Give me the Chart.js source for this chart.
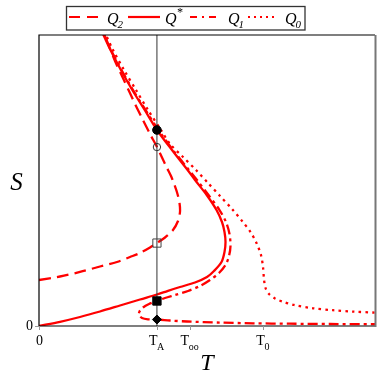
<!DOCTYPE html>
<html>
<head>
<meta charset="utf-8">
<script src="https://cdn.jsdelivr.net/npm/chart.js@4.4.1/dist/chart.umd.min.js"></script>
<style>
html,body{margin:0;padding:0;background:#fff;}
canvas{display:block;}
</style>
</head>
<body>
<canvas id="c" width="382" height="382"></canvas>
<script>
// ---- data (T on x, S on y; axes run 0..100 in arbitrary units) ----
const tA = 35.1, tOO = 44.9, t0 = 66.7;

// Q* (solid)
const qStarT = [0, 6.25, 12.20, 18.15, 24.11, 30.06, 35.12, 38.39, 41.96, 46.43, 50.00, 52.08, 54.32, 55.21, 55.51, 55.21, 54.46, 52.83, 49.91, 46.43, 44.23, 39.58, 35.12, 31.46, 27.77, 24.38, 21.28, 19.20, 18.7];
const qStarS = [0, 1.44, 3.09, 4.98, 7.04, 9.11, 10.82, 12.10, 13.40, 14.95, 16.84, 18.90, 21.99, 25.43, 28.87, 32.30, 35.74, 39.86, 45.02, 50.17, 53.61, 60.48, 67.35, 74.23, 81.10, 87.97, 94.85, 100, 101.4];

// Q2 (dashed)
const q2T = [0, 6.25, 12.20, 18.15, 23.21, 27.08, 30.06, 33.04, 35.12, 37.50, 39.88, 41.37, 41.96, 41.82, 41.22, 40.33, 39.29, 37.95, 36.61, 35.12, 33.04, 30.95, 28.87, 26.79, 24.70, 22.62, 20.83, 19.49, 19.05];
const q2S = [15.81, 17.01, 18.56, 20.45, 21.99, 23.71, 25.09, 26.98, 28.52, 30.41, 32.99, 36.08, 39.18, 42.27, 45.36, 48.45, 51.55, 54.64, 57.90, 61.51, 65.98, 70.79, 75.60, 80.76, 85.91, 91.07, 96.22, 100, 101.4];

// Q1 (dash-dot)
const q1T = [19.05, 19.49, 21.43, 24.55, 27.98, 31.70, 35.57, 39.88, 44.64, 47.02, 50.45, 53.72, 55.65, 56.70, 56.99, 56.55, 55.51, 53.57, 50.89, 47.92, 44.35, 40.48, 37.50, 35.12, 32.74, 30.95, 29.91, 29.76, 30.65, 32.44, 35.12, 38.99, 44.05, 53.87, 63.69, 74.70, 86.61, 100];
const q1S = [101.4, 100, 94.85, 87.97, 81.10, 74.23, 67.35, 60.48, 53.61, 50.17, 45.02, 39.86, 35.74, 31.62, 27.49, 24.05, 20.96, 18.21, 15.81, 13.75, 12.03, 10.65, 9.62, 8.59, 7.56, 6.36, 4.98, 3.78, 2.75, 2.30, 2.23, 1.89, 1.55, 1.17, 0.93, 0.79, 0.69, 0.62];

// Q0 (dotted)
const q0T = [19.49, 19.94, 22.02, 25.30, 28.87, 32.44, 36.31, 38.99, 42.86, 46.73, 50.30, 53.87, 57.44, 60.57, 62.95, 64.73, 66.07, 66.67, 66.96, 67.41, 68.45, 70.24, 72.62, 75.89, 81.55, 87.50, 93.45, 100];
const q0S = [101.4, 100, 94.85, 87.97, 81.10, 74.23, 67.35, 62.54, 58.08, 53.61, 49.14, 44.67, 40.21, 35.91, 32.30, 28.52, 24.40, 20.27, 16.15, 13.06, 11.00, 9.45, 8.32, 7.22, 6.08, 5.43, 4.95, 4.60];

// marked states on the T = T_A line
const markFilledCircleS = 67.35;
const markOpenCircleS = 61.5;
const markOpenSquareS = 28.5;
const markFilledSquareS = 8.6;
const markDiamondS = 2.23;

// ticks
const xTickValues = [0, tA, tOO, t0];
const xTickMain = ['0', 'T', 'T', 'T'];
const xTickSub = ['', 'A', 'oo', '0'];
const yTickValues = [0];
const yTickLabels = ['0'];

// legend
const legendNames = ['Q', 'Q', 'Q', 'Q'];
const legendSub = ['2', '', '1', '0'];
const legendSup = ['', '*', '', ''];

const RED = '#ff0000';
const pts = (xs, ys) => xs.map((x, i) => ({x: x, y: ys[i]}));

const lineDs = (xs, ys, dash) => ({
  data: pts(xs, ys), showLine: true, pointRadius: 0, borderColor: RED,
  borderWidth: 2.3, borderDash: dash, tension: 0.3, fill: false, order: 2
});

const markDs = (s, style, r, filled, color) => ({
  data: [{x: tA, y: s}], showLine: false, pointStyle: style, pointRadius: r,
  pointBorderWidth: 1, pointBorderColor: color,
  pointBackgroundColor: filled ? '#000' : 'rgba(0,0,0,0)', order: 0
});

const serif = '"Liberation Serif", "DejaVu Serif", serif';

const deco = {
  id: 'deco',
  afterDraw(chart) {
    const ctx = chart.ctx, a = chart.chartArea;
    const xs = chart.scales.x, ys = chart.scales.y;
    ctx.save();
    // frame
    ctx.strokeStyle = '#000';
    ctx.lineWidth = 1.2;
    ctx.beginPath();
    ctx.moveTo(a.left, a.bottom); ctx.lineTo(a.left, a.top); ctx.lineTo(a.right, a.top);
    ctx.moveTo(a.left, a.bottom); ctx.lineTo(a.right, a.bottom);
    ctx.stroke();
    ctx.strokeStyle = '#777';
    ctx.lineWidth = 2;
    ctx.beginPath(); ctx.moveTo(a.right + 0.5, a.top); ctx.lineTo(a.right + 0.5, a.bottom + 1); ctx.stroke();

    // tick marks
    ctx.strokeStyle = '#999';
    ctx.lineWidth = 1;
    xTickValues.forEach(v => {
      const px = Math.round(xs.getPixelForValue(v)) + 0.5;
      ctx.beginPath(); ctx.moveTo(px, a.bottom); ctx.lineTo(px, a.bottom + 4); ctx.stroke();
    });
    yTickValues.forEach(v => {
      const py = Math.round(ys.getPixelForValue(v)) + 0.5;
      ctx.beginPath(); ctx.moveTo(a.left - 4, py); ctx.lineTo(a.left, py); ctx.stroke();
    });

    // x tick labels
    ctx.fillStyle = '#000';
    ctx.textBaseline = 'alphabetic';
    ctx.textAlign = 'left';
    xTickValues.forEach((v, i) => {
      const px = xs.getPixelForValue(v);
      ctx.font = '14px ' + serif;
      const wm = ctx.measureText(xTickMain[i]).width;
      ctx.font = '10px ' + serif;
      const wsub = xTickSub[i] ? ctx.measureText(xTickSub[i]).width : 0;
      const x0 = px - (wm + wsub) / 2 + (xTickSub[i] ? 0 : 0.5);
      ctx.font = '14px ' + serif;
      ctx.fillText(xTickMain[i], x0, a.bottom + 19);
      if (xTickSub[i]) {
        ctx.font = '10px ' + serif;
        ctx.fillText(xTickSub[i], x0 + wm - 0.5, a.bottom + 24);
      }
    });
    // y tick labels
    ctx.font = '14px ' + serif;
    ctx.textAlign = 'right';
    ctx.textBaseline = 'middle';
    yTickValues.forEach((v, i) => {
      ctx.fillText(yTickLabels[i], a.left - 6, ys.getPixelForValue(v) + 0.5);
    });

    // axis titles
    ctx.textAlign = 'center';
    ctx.textBaseline = 'middle';
    ctx.font = 'italic 25px ' + serif;
    ctx.fillText('S', 16.5, (a.top + a.bottom) / 2 + 3);
    ctx.font = 'italic 24px ' + serif;
    ctx.fillText('T', (a.left + a.right) / 2, a.bottom + 38);

    // legend
    ctx.strokeStyle = '#333';
    ctx.lineWidth = 1.3;
    ctx.strokeRect(66.5, 6.5, 238.5, 23.5);
    const samples = [
      {x0: 69, x1: 103, dash: [11, 7]},
      {x0: 128, x1: 160, dash: []},
      {x0: 190, x1: 221, dash: [7, 5, 2, 5]},
      {x0: 248, x1: 278, dash: [2, 4]}
    ];
    const textX = [107, 165, 228, 285];
    samples.forEach((s, i) => {
      ctx.strokeStyle = RED;
      ctx.lineWidth = 2.2;
      ctx.setLineDash(s.dash);
      ctx.beginPath(); ctx.moveTo(s.x0, 17); ctx.lineTo(s.x1, 17); ctx.stroke();
      ctx.setLineDash([]);
      ctx.fillStyle = '#000';
      ctx.textAlign = 'left';
      ctx.textBaseline = 'alphabetic';
      ctx.font = 'italic 16px ' + serif;
      ctx.fillText(legendNames[i], textX[i], 24);
      const w = ctx.measureText(legendNames[i]).width;
      if (legendSub[i]) {
        ctx.font = 'italic 11px ' + serif;
        ctx.fillText(legendSub[i], textX[i] + w - 1, 28);
      }
      if (legendSup[i]) {
        ctx.font = 'italic 12px ' + serif;
        ctx.fillText(legendSup[i], textX[i] + w, 16);
      }
    });
    ctx.restore();
  }
};

new Chart(document.getElementById('c'), {
  type: 'scatter',
  data: {
    datasets: [
      {data: [{x: tA, y: 0}, {x: tA, y: 100}], showLine: true, pointRadius: 0, borderColor: '#333', borderWidth: 1, order: 1},
      lineDs(q2T, q2S, [12, 6]),
      lineDs(qStarT, qStarS, []),
      lineDs(q1T, q1S, [10, 4, 3, 4]),
      lineDs(q0T, q0S, [2.5, 4.2]),
      markDs(markFilledCircleS, 'circle', 4.3, true, '#000'),
      markDs(markOpenCircleS, 'circle', 3.7, false, '#333'),
      markDs(markOpenSquareS, 'rect', 5.8, false, '#444'),
      markDs(markFilledSquareS, 'rect', 5.9, true, '#000'),
      markDs(markDiamondS, 'rectRot', 4.5, true, '#000')
    ]
  },
  options: {
    responsive: false,
    devicePixelRatio: 1,
    animation: false,
    layout: {padding: {left: 39, right: 7, top: 35, bottom: 56}},
    scales: {
      x: {type: 'linear', min: 0, max: 100, display: false},
      y: {type: 'linear', min: 0, max: 100, display: false}
    },
    plugins: {legend: {display: false}, tooltip: {enabled: false}}
  },
  plugins: [deco]
});
</script>
</body>
</html>
